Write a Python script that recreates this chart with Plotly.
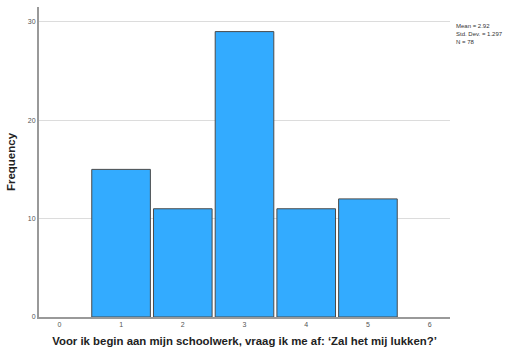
import plotly.graph_objects as go

categories = [1, 2, 3, 4, 5]
frequencies = [15, 11, 29, 11, 12]
x_ticks = [0, 1, 2, 3, 4, 5, 6]
y_ticks = [0, 10, 20, 30]
stats_text = "Mean = 2.92<br>Std. Dev. = 1.297<br>N = 78"
x_title = "Voor ik begin aan mijn schoolwerk, vraag ik me af: ‘Zal het mij lukken?’"
y_title = "Frequency"

fig = go.Figure()
fig.add_trace(go.Bar(
    x=categories, y=frequencies, width=0.95,
    marker=dict(color="#33ABFF", line=dict(color="#4a4a4a", width=1)),
))

fig.update_layout(
    width=517, height=360,
    margin=dict(l=39, r=67, t=7, b=43, autoexpand=False),
    plot_bgcolor="white", paper_bgcolor="white",
    showlegend=False,
    font=dict(family="Arial, Liberation Sans, sans-serif", color="#333"),
    xaxis=dict(
        range=[-0.33, 6.33], tickvals=x_ticks, ticktext=[str(t) for t in x_ticks],
        showgrid=False, showline=True, linecolor="#999", linewidth=2,
        ticks="", tickfont=dict(size=7, color="#555"), zeroline=False, automargin=False,
        title=dict(text="<b>" + x_title + "</b>", font=dict(size=11.4, color="#222"), standoff=10),
    ),
    yaxis=dict(
        range=[0, 31.5], tickvals=y_ticks, showgrid=True, gridcolor="#dcdcdc", gridwidth=1,
        showline=True, linecolor="#999", linewidth=2, ticks="", zeroline=False, automargin=False,
        tickfont=dict(size=7, color="#555"),
        title=dict(text="<b>" + y_title + "</b>", font=dict(size=11.5, color="#222"), standoff=10),
    ),
    annotations=[dict(
        x=1.01, y=0.955, xref="paper", yref="paper", xanchor="left", yanchor="top",
        text=stats_text, showarrow=False, align="left",
        font=dict(size=6, color="#333"),
    )],
)

fig.write_html("out.html", config={"displayModeBar": False},
               post_script="document.body.style.margin='0';")
